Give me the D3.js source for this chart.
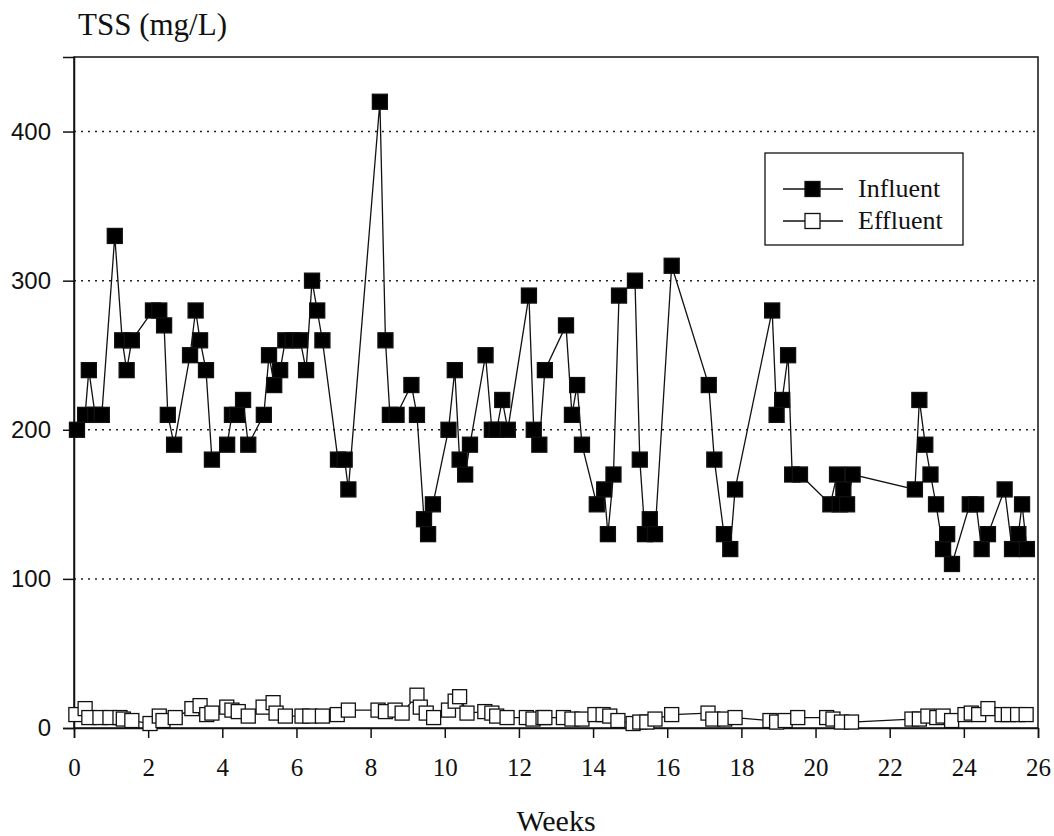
<!DOCTYPE html>
<html>
<head>
<meta charset="utf-8">
<script src="https://cdn.jsdelivr.net/npm/d3@7"></script>
<style>
  body { margin: 0; background: #fff; }
  text { font-family: "Liberation Serif", "DejaVu Serif", serif; fill: #111; }
</style>
</head>
<body>
<div id="chart"></div>
<script>
// influent TSS readings (week, mg/L)
const influentWeeks = [0.08, 0.3, 0.4, 0.57, 0.75, 1.1, 1.3, 1.42, 1.56, 2.13, 2.3, 2.43, 2.53, 2.7,
  3.13, 3.28, 3.4, 3.56, 3.72, 4.13, 4.26, 4.4, 4.56, 4.7, 5.12, 5.26, 5.4, 5.56, 5.7, 5.9, 6.1,
  6.26, 6.42, 6.56, 6.7, 7.12, 7.3, 7.4, 8.25, 8.4, 8.52, 8.7, 9.1, 9.25, 9.44, 9.55, 9.68,
  10.1, 10.27, 10.4, 10.55, 10.68, 11.1, 11.27, 11.4, 11.55, 11.7, 12.27, 12.4, 12.55, 12.7,
  13.27, 13.43, 13.57, 13.7, 14.1, 14.3, 14.4, 14.55, 14.7, 15.13, 15.26, 15.4, 15.53, 15.67,
  16.12, 17.12, 17.27, 17.53, 17.7, 17.83, 18.83, 18.95, 19.1, 19.26, 19.37, 19.58,
  20.4, 20.58, 20.65, 20.75, 20.85, 21.0, 22.68, 22.8, 22.96, 23.1, 23.25, 23.44, 23.55, 23.68,
  24.16, 24.33, 24.48, 24.65, 25.1, 25.3, 25.47, 25.57, 25.7];
const influentTSS = [200, 210, 240, 210, 210, 330, 260, 240, 260, 280, 280, 270, 210, 190,
  250, 280, 260, 240, 180, 190, 210, 210, 220, 190, 210, 250, 230, 240, 260, 260, 260,
  240, 300, 280, 260, 180, 180, 160, 420, 260, 210, 210, 230, 210, 140, 130, 150,
  200, 240, 180, 170, 190, 250, 200, 200, 220, 200, 290, 200, 190, 240,
  270, 210, 230, 190, 150, 160, 130, 170, 290, 300, 180, 130, 140, 130,
  310, 230, 180, 130, 120, 160, 280, 210, 220, 250, 170, 170,
  150, 170, 150, 160, 150, 170, 160, 220, 190, 170, 150, 120, 130, 110,
  150, 150, 120, 130, 160, 120, 130, 150, 120];

// effluent TSS readings (week, mg/L)
const effluentWeeks = [0.05, 0.3, 0.4, 0.7, 0.97, 1.24, 1.33, 1.56, 2.05, 2.3, 2.4, 2.73,
  3.18, 3.4, 3.58, 3.72, 4.12, 4.26, 4.43, 4.7, 5.1, 5.37, 5.45, 5.7, 6.15, 6.36, 6.7, 7.1, 7.4,
  8.2, 8.4, 8.66, 8.85, 9.25, 9.34, 9.5, 9.7, 10.1, 10.28, 10.4, 10.6, 11.08, 11.27, 11.4, 11.68,
  12.2, 12.38, 12.65, 12.7, 13.2, 13.43, 13.7, 14.05, 14.27, 14.45, 14.67, 15.08, 15.26, 15.45,
  15.67, 16.12, 17.1, 17.23, 17.55, 17.83, 18.77, 18.95, 19.18, 19.52, 20.3, 20.47, 20.7, 20.97,
  22.6, 22.8, 23.03, 23.27, 23.44, 23.67, 24.03, 24.2, 24.4, 24.65, 25.03, 25.2, 25.45, 25.68];
const effluentTSS = [9, 13, 7, 7, 7, 7, 6, 5, 3, 8, 5, 7,
  13, 15, 9, 10, 14, 12, 11, 8, 14, 17, 10, 8, 8, 8, 8, 9, 12,
  12, 11, 12, 10, 22, 14, 10, 7, 12, 18, 21, 10, 11, 10, 8, 7,
  7, 6, 7, 7, 7, 6, 6, 9, 9, 8, 5, 3, 4, 4,
  6, 9, 10, 6, 6, 7, 5, 4, 5, 7, 7, 6, 4, 4,
  6, 6, 8, 7, 8, 5, 9, 10, 9, 13, 9, 9, 9, 9];

const xTicks = d3.range(0, 27, 2);
const yTicks = [0, 100, 200, 300, 400];
const gridValues = [100, 200, 300, 400];
const seriesNames = ["Influent", "Effluent"];

const width = 1054, height = 836;
const margin = { top: 57, right: 16, bottom: 108, left: 74 };
const plotW = width - margin.left - margin.right;
const plotH = height - margin.top - margin.bottom;

const svg = d3.select("#chart").append("svg")
  .attr("width", width)
  .attr("height", height);

const g = svg.append("g")
  .attr("transform", "translate(" + margin.left + "," + margin.top + ")");

const x = d3.scaleLinear().domain([0, 26]).range([0, plotW]);
const y = d3.scaleLinear().domain([0, 450]).range([plotH, 0]);

// dotted gridlines
g.selectAll(".grid")
  .data(gridValues)
  .enter()
  .append("line")
  .attr("x1", 0)
  .attr("x2", plotW)
  .attr("y1", d => y(d))
  .attr("y2", d => y(d))
  .attr("stroke", "#222")
  .attr("stroke-width", 1.5)
  .attr("stroke-dasharray", "2,5");

// frame
g.append("rect")
  .attr("width", plotW)
  .attr("height", plotH)
  .attr("fill", "none")
  .attr("stroke", "#111")
  .attr("stroke-width", 1.5);

const xAxis = g.append("g")
  .attr("transform", "translate(0," + plotH + ")")
  .call(d3.axisBottom(x).tickValues(xTicks).tickSize(10).tickPadding(20).tickFormat(d3.format("d")));
const yAxis = g.append("g")
  .call(d3.axisLeft(y).tickValues(yTicks).tickSize(11).tickPadding(12).tickFormat(d3.format("d")));

[xAxis, yAxis].forEach(a => {
  a.select(".domain").attr("stroke", "#111").attr("stroke-width", 1.5);
  a.selectAll(".tick line").attr("stroke", "#111").attr("stroke-width", 1.5);
  a.selectAll(".tick text").attr("fill", "#111");
});
xAxis.selectAll(".tick text")
  .style("font-family", "'Liberation Serif', serif")
  .style("font-size", "25px");
yAxis.selectAll(".tick text")
  .style("font-family", "'Liberation Sans', Arial, sans-serif")
  .style("font-size", "24px");

const line = d3.line().x(d => x(d[0])).y(d => y(d[1]));
const influent = influentWeeks.map((w, i) => [w, influentTSS[i]]);
const effluent = effluentWeeks.map((w, i) => [w, effluentTSS[i]]);

function drawSeries(data, fill, size) {
  g.append("path")
    .datum(data)
    .attr("d", line)
    .attr("fill", "none")
    .attr("stroke", "#111")
    .attr("stroke-width", 1.3);
  g.selectAll(null)
    .data(data)
    .enter()
    .append("rect")
    .attr("x", d => x(d[0]) - size / 2)
    .attr("y", d => y(d[1]) - size / 2)
    .attr("width", size)
    .attr("height", size)
    .attr("fill", fill)
    .attr("stroke", "#111")
    .attr("stroke-width", 1.3);
}

drawSeries(effluent, "#fff", 14);
drawSeries(influent, "#000", 15);

// axis titles
svg.append("text")
  .attr("x", 78)
  .attr("y", 35)
  .style("font-size", "31px")
  .text("TSS (mg/L)");

svg.append("text")
  .attr("x", 556)
  .attr("y", 831)
  .attr("text-anchor", "middle")
  .style("font-size", "30px")
  .text("Weeks");

// legend
const legend = svg.append("g").attr("transform", "translate(765,153)");
legend.append("rect")
  .attr("width", 198)
  .attr("height", 92)
  .attr("fill", "#fff")
  .attr("stroke", "#111")
  .attr("stroke-width", 1.3);

const item = legend.selectAll(".legend")
  .data(seriesNames)
  .enter()
  .append("g")
  .attr("class", "legend")
  .attr("transform", (d, i) => "translate(0," + (36 + i * 32) + ")");

item.append("line")
  .attr("x1", 18)
  .attr("x2", 78)
  .attr("stroke", "#111")
  .attr("stroke-width", 1.3);
item.append("rect")
  .attr("x", 40)
  .attr("y", -7.5)
  .attr("width", 15)
  .attr("height", 15)
  .attr("fill", (d, i) => i === 0 ? "#000" : "#fff")
  .attr("stroke", "#111")
  .attr("stroke-width", 1.3);
item.append("text")
  .attr("x", 93)
  .attr("y", 8)
  .style("font-size", "26px")
  .text(d => d);
</script>
</body>
</html>
